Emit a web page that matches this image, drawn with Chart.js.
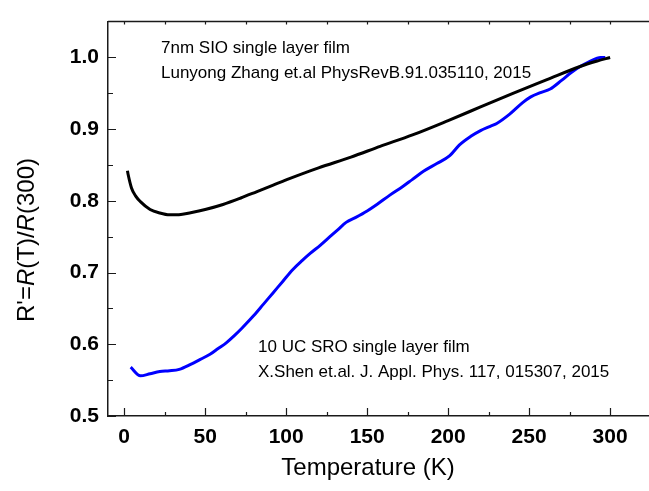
<!DOCTYPE html>
<html>
<head>
<meta charset="utf-8">
<script src="https://cdn.jsdelivr.net/npm/chart.js@4.4.1/dist/chart.umd.min.js"></script>
<style>
  html, body { margin: 0; padding: 0; background: #fff; }
  #wrap { width: 649px; height: 491px; }
</style>
</head>
<body>
<div id="wrap"><canvas id="myChart" width="649" height="491"></canvas></div>
<script>
// SIO film (black)
var tempSIO = [2, 2.5, 4.5, 7, 10, 16, 22, 28, 35, 41, 50, 61, 72, 82, 92, 102, 120, 140, 158, 178, 200, 220, 240, 261, 281, 292, 300];
var rSIO = [0.842, 0.836, 0.818, 0.807, 0.799, 0.788, 0.783, 0.7805, 0.781, 0.7835, 0.788, 0.795, 0.804, 0.813, 0.822, 0.831, 0.846, 0.861, 0.876, 0.892, 0.912, 0.931, 0.950, 0.969, 0.987, 0.995, 1.0];
// SRO film (blue)
var tempSRO = [4, 10, 16, 22, 28, 34, 41, 47, 53, 58, 63, 68, 72.5, 80, 86, 92, 98, 104, 110, 115, 121, 127, 132, 137, 143, 150, 156, 164, 172, 178, 185, 193, 201, 207, 214, 220, 226, 230, 238, 246, 251, 257, 263, 270, 276, 282, 287, 292, 294, 297];
var rSRO = [0.568, 0.556, 0.559, 0.562, 0.563, 0.565, 0.572, 0.579, 0.586, 0.594, 0.602, 0.612, 0.622, 0.640, 0.656, 0.672, 0.688, 0.704, 0.717, 0.727, 0.738, 0.750, 0.760, 0.770, 0.777, 0.786, 0.795, 0.808, 0.820, 0.830, 0.8415, 0.852, 0.863, 0.878, 0.890, 0.898, 0.904, 0.908, 0.921, 0.937, 0.945, 0.951, 0.956, 0.968, 0.979, 0.988, 0.994, 0.999, 1.0, 1.0];

var xTicks = [0, 25, 50, 75, 100, 125, 150, 175, 200, 225, 250, 275, 300];
var yTicks = [0.5, 0.55, 0.6, 0.65, 0.7, 0.75, 0.8, 0.85, 0.9, 0.95, 1.0];

function toPoints(xs, ys) {
    return xs.map(function(x, i) { return {x: x, y: ys[i]}; });
}

var FONT = '"Liberation Sans", Arial, sans-serif';

// frame, inward ticks, titles and notes
var extras = {
    id: 'extras',
    afterDraw: function(chart) {
        var ctx = chart.ctx;
        var a = chart.chartArea;
        var sx = chart.scales.x, sy = chart.scales.y;
        ctx.save();
        ctx.strokeStyle = '#1a1a1a';
        ctx.lineWidth = 1.5;
        ctx.beginPath();
        ctx.moveTo(a.left, a.top);
        ctx.lineTo(a.right, a.top);
        ctx.stroke();
        ctx.lineWidth = 1.2;
        ctx.beginPath();
        xTicks.forEach(function(v) {
            var px = Math.round(sx.getPixelForValue(v)) + 0.5;
            var len = (v % 50 === 0) ? 8 : 4;
            ctx.moveTo(px, a.bottom);
            ctx.lineTo(px, a.bottom - len);
            ctx.moveTo(px, a.top);
            ctx.lineTo(px, a.top + 3);
        });
        yTicks.forEach(function(v) {
            var py = Math.round(sy.getPixelForValue(v)) + 0.5;
            var len = (Math.round(v * 100) % 10 === 0) ? 8 : 5;
            ctx.moveTo(a.left, py);
            ctx.lineTo(a.left + len, py);
        });
        ctx.stroke();

        // notes
        ctx.fillStyle = '#000';
        ctx.font = '17px ' + FONT;
        ctx.textAlign = 'left';
        ctx.textBaseline = 'middle';
        ctx.fillText('7nm SIO single layer film', 161, 48);
        ctx.fillText('Lunyong Zhang et.al PhysRevB.91.035110, 2015', 161, 73);
        ctx.fillText('10 UC SRO single layer film', 258, 347);
        ctx.fillText('X.Shen et.al. J. Appl. Phys. 117, 015307, 2015', 258, 372);

        // x title
        ctx.font = '24px ' + FONT;
        ctx.textAlign = 'center';
        ctx.fillText('Temperature (K)', 368, 468);

        // y title with italic R
        var parts = [["R'=", false], ['R', true], ['(T)/', false], ['R', true], ['(300)', false]];
        var total = 0;
        parts.forEach(function(p) {
            ctx.font = (p[1] ? 'italic ' : '') + '24px ' + FONT;
            total += ctx.measureText(p[0]).width;
        });
        ctx.translate(27, 240);
        ctx.rotate(-Math.PI / 2);
        ctx.textAlign = 'left';
        var pos = -total / 2;
        parts.forEach(function(p) {
            ctx.font = (p[1] ? 'italic ' : '') + '24px ' + FONT;
            ctx.fillText(p[0], pos, 0);
            pos += ctx.measureText(p[0]).width;
        });
        ctx.restore();
    }
};

var ctx = document.getElementById('myChart').getContext('2d');
var myChart = new Chart(ctx, {
    type: 'line',
    data: {
        datasets: [{
            label: 'SIO',
            data: toPoints(tempSIO, rSIO),
            borderColor: '#000000',
            borderWidth: 3,
            pointRadius: 0,
            cubicInterpolationMode: 'monotone',
            fill: false
        }, {
            label: 'SRO',
            data: toPoints(tempSRO, rSRO),
            borderColor: '#0000ff',
            borderWidth: 3,
            pointRadius: 0,
            cubicInterpolationMode: 'monotone',
            fill: false
        }]
    },
    options: {
        responsive: false,
        animation: false,
        layout: { padding: { top: 13, right: 0, left: 0, bottom: 0 } },
        plugins: {
            legend: { display: false },
            tooltip: { enabled: false }
        },
        scales: {
            x: {
                type: 'linear',
                min: -10,
                max: 324,
                grid: { display: false, drawTicks: false },
                border: { display: true, color: '#1a1a1a', width: 1.5 },
                ticks: {
                    stepSize: 25,
                    includeBounds: false,
                    autoSkip: false,
                    maxRotation: 0,
                    padding: 9,
                    color: '#000',
                    font: { family: FONT, size: 21, weight: 'bold' },
                    callback: function(v) { return v % 50 === 0 ? String(v) : ''; }
                },
                afterFit: function(scale) { scale.height = 75; }
            },
            y: {
                min: 0.5,
                max: 1.05,
                grid: { display: false, drawTicks: false },
                border: { display: true, color: '#1a1a1a', width: 1.5 },
                ticks: {
                    stepSize: 0.05,
                    includeBounds: false,
                    autoSkip: false,
                    padding: 9,
                    color: '#000',
                    font: { family: FONT, size: 21, weight: 'bold' },
                    callback: function(v) {
                        return Math.round(v * 100) % 10 === 0 ? v.toFixed(1) : '';
                    }
                },
                afterFit: function(scale) { scale.width = 108; }
            }
        }
    },
    plugins: [extras]
});
</script>
</body>
</html>
